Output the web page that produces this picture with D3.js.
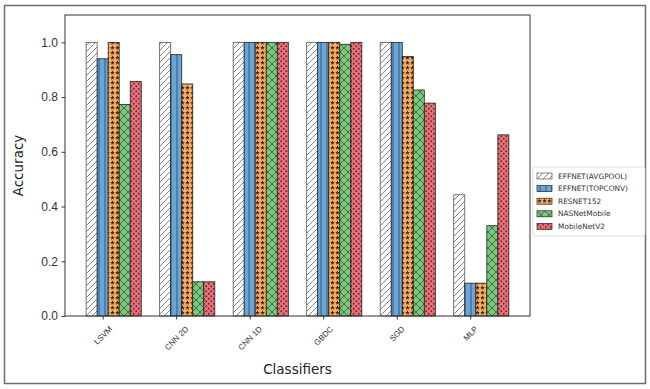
<!DOCTYPE html>
<html>
<head>
<meta charset="utf-8">
<script src="https://cdn.jsdelivr.net/npm/d3@7"></script>
<style>
body { margin: 0; background: #fff; }
svg { display: block; font-family: "DejaVu Sans", sans-serif; }
</style>
</head>
<body>
<script>
// chart data
var classifiers = ["LSVM", "CNN 2D", "CNN 1D", "GBDC", "SGD", "MLP"];
var seriesNames = ["EFFNET(AVGPOOL)", "EFFNET(TOPCONV)", "RESNET152", "NASNetMobile", "MobileNetV2"];
var effnetAvgpool = [1.0, 1.0, 1.0, 1.0, 1.0, 0.443];
var effnetTopconv = [0.94, 0.955, 1.0, 1.0, 1.0, 0.12];
var resnet152 = [1.0, 0.848, 1.0, 1.0, 0.948, 0.12];
var nasnetMobile = [0.773, 0.125, 1.0, 0.993, 0.826, 0.33];
var mobilenetV2 = [0.857, 0.125, 1.0, 1.0, 0.778, 0.662];
var yTicks = [0.0, 0.2, 0.4, 0.6, 0.8, 1.0];

var allSeries = [effnetAvgpool, effnetTopconv, resnet152, nasnetMobile, mobilenetV2];

var width = 650, height = 389;
// N.B. don't call these "top" -- that's window.top
var plotLeft = 65, plotRight = 530, plotTop = 15, plotBottom = 316;
var barW = 0.15;

var svg = d3.select("body").append("svg")
	.attr("width", width)
	.attr("height", height);

// outer frame
svg.append("rect")
	.attr("x", 4.5).attr("y", 5.5)
	.attr("width", 641).attr("height", 378)
	.attr("fill", "none")
	.attr("stroke", "#6e6e6e")
	.attr("stroke-width", 1.5);

var defs = svg.append("defs");

// hatch patterns, one per series
var fills = ["#ffffff", "#6aa5d6", "#f3ad66", "#7cc87f", "#e5737b"];
var inks = ["#777777", "#2b4f73", "#4a2205", "#2e5b2e", "#7a1e26"];

function makePattern(id, bg, ink, kind) {
	var s = kind === "star" || kind === "dot" ? 5 : (kind === "x" ? 8 : 6);
	var p = defs.append("pattern")
		.attr("id", id)
		.attr("patternUnits", "userSpaceOnUse")
		.attr("width", s).attr("height", s);
	p.append("rect").attr("width", s).attr("height", s).attr("fill", bg);
	if (kind === "slash") {
		p.append("path").attr("d", "M0," + s + " L" + s + ",0 M-1,1 L1,-1 M" + (s - 1) + "," + (s + 1) + " L" + (s + 1) + "," + (s - 1))
			.attr("stroke", ink).attr("stroke-width", 0.9);
	} else if (kind === "vline") {
		p.append("path").attr("d", "M3,0 L3," + s).attr("stroke", ink).attr("stroke-width", 0.9);
	} else if (kind === "star") {
		p.append("path").attr("d", "M2.5,0.3 L3.2,1.9 L4.8,2 L3.5,3.1 L3.9,4.7 L2.5,3.8 L1.1,4.7 L1.5,3.1 L0.2,2 L1.8,1.9 Z")
			.attr("fill", ink);
	} else if (kind === "x") {
		p.append("path").attr("d", "M0,0 L" + s + "," + s + " M0," + s + " L" + s + ",0")
			.attr("stroke", ink).attr("stroke-width", 0.8);
	} else if (kind === "dot") {
		p.append("circle").attr("cx", 1.25).attr("cy", 1.25).attr("r", 0.95).attr("fill", ink);
		p.append("circle").attr("cx", 3.75).attr("cy", 3.75).attr("r", 0.95).attr("fill", ink);
	}
}
var kinds = ["slash", "vline", "star", "x", "dot"];
kinds.forEach(function(k, i) { makePattern("pat" + i, fills[i], inks[i], k); });

var x = d3.scaleLinear().domain([-0.5125, 5.8125]).range([plotLeft, plotRight]);
var y = d3.scaleLinear().domain([0, 1.1]).range([plotBottom, plotTop]);

// bars
allSeries.forEach(function(vals, s) {
	svg.append("g").selectAll("rect")
		.data(vals)
		.enter()
		.append("rect")
		.attr("x", function(d, i) { return x(i + (s - 1) * barW - barW / 2); })
		.attr("width", x(barW) - x(0))
		.attr("y", function(d) { return y(d); })
		.attr("height", function(d) { return y(0) - y(d); })
		.attr("fill", "url(#pat" + s + ")")
		.attr("stroke", s === 0 ? "#555" : "#222")
		.attr("stroke-width", 0.8);
});

// axes frame
svg.append("rect")
	.attr("x", plotLeft).attr("y", plotTop)
	.attr("width", plotRight - plotLeft).attr("height", plotBottom - plotTop)
	.attr("fill", "none").attr("stroke", "#333").attr("stroke-width", 1);

var yAxis = svg.append("g")
	.attr("transform", "translate(" + plotLeft + ",0)")
	.call(d3.axisLeft(y).tickValues(yTicks).tickFormat(d3.format(".1f")).tickSize(3.5).tickPadding(3.5));
yAxis.select(".domain").remove();
yAxis.selectAll("text").attr("font-size", 12).attr("fill", "#333");
yAxis.selectAll("line").attr("stroke", "#333");

var xAxis = svg.append("g")
	.attr("transform", "translate(0," + plotBottom + ")")
	.call(d3.axisBottom(x).tickValues(d3.range(classifiers.length)).tickFormat(function(d) { return classifiers[d]; }).tickSize(3.5));
xAxis.select(".domain").remove();
xAxis.selectAll("line").attr("stroke", "#333");
xAxis.selectAll("text")
	.attr("font-size", 8)
	.attr("fill", "#333")
	.attr("text-anchor", "middle")
	.attr("dominant-baseline", "central")
	.each(function() {
		var len = this.getComputedTextLength();
		var h = (len + 8) * Math.SQRT1_2;
		var cy = 9 + h / 2;
		d3.select(this)
			.attr("y", null).attr("dy", null)
			.attr("transform", "translate(0," + cy + ") rotate(-45)");
	});

// axis titles
svg.append("text")
	.attr("x", (plotLeft + plotRight) / 2).attr("y", 374)
	.attr("text-anchor", "middle")
	.attr("font-size", 13.5).attr("fill", "#222")
	.text("Classifiers");

svg.append("text")
	.attr("transform", "translate(23," + ((plotTop + plotBottom) / 2) + ") rotate(-90)")
	.attr("text-anchor", "middle")
	.attr("font-size", 13.5).attr("fill", "#222")
	.text("Accuracy");

// legend
var legend = svg.append("g").attr("transform", "translate(533,167)");
legend.append("rect")
	.attr("x", 0).attr("y", 0)
	.attr("width", 112).attr("height", 69)
	.attr("rx", 2)
	.attr("fill", "#fff")
	.attr("stroke", "#d6d6d6").attr("stroke-width", 0.8);
seriesNames.forEach(function(name, i) {
	var g = legend.append("g").attr("transform", "translate(4," + (6 + i * 12.6) + ")");
	g.append("rect")
		.attr("width", 15).attr("height", 6)
		.attr("fill", "url(#pat" + i + ")")
		.attr("stroke", i === 0 ? "#555" : "#222").attr("stroke-width", 0.7);
	g.append("text")
		.attr("x", 21).attr("y", 3)
		.attr("dominant-baseline", "central")
		.attr("font-size", 7.4).attr("fill", "#333")
		.text(name);
});
</script>
</body>
</html>
